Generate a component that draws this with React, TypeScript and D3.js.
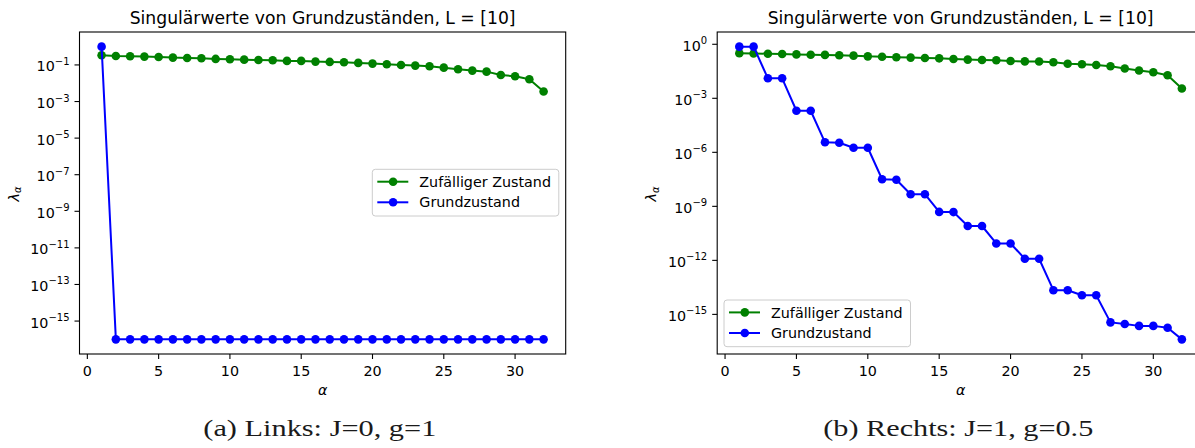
import React from 'react';
import * as d3 from 'd3';

const alphaValues = [1, 2, 3, 4, 5, 6, 7, 8, 9, 10, 11, 12, 13, 14, 15, 16, 17, 18, 19, 20, 21, 22, 23, 24, 25, 26, 27, 28, 29, 30, 31, 32];

const leftRandom = [0.337, 0.31, 0.298, 0.285, 0.273, 0.251, 0.241, 0.231, 0.213, 0.204, 0.195, 0.187, 0.18, 0.166, 0.166, 0.152, 0.146, 0.14, 0.129, 0.118, 0.109, 0.1, 0.092, 0.085, 0.071, 0.058, 0.049, 0.043, 0.028, 0.024, 0.0165, 0.0035];
const leftGround = [1.0, 1e-16, 1e-16, 1e-16, 1e-16, 1e-16, 1e-16, 1e-16, 1e-16, 1e-16, 1e-16, 1e-16, 1e-16, 1e-16, 1e-16, 1e-16, 1e-16, 1e-16, 1e-16, 1e-16, 1e-16, 1e-16, 1e-16, 1e-16, 1e-16, 1e-16, 1e-16, 1e-16, 1e-16, 1e-16, 1e-16, 1e-16];

const rightRandom = [0.32, 0.31, 0.3, 0.288, 0.275, 0.263, 0.257, 0.245, 0.234, 0.214, 0.204, 0.191, 0.182, 0.174, 0.166, 0.151, 0.141, 0.135, 0.129, 0.117, 0.112, 0.11, 0.1, 0.083, 0.078, 0.071, 0.06, 0.045, 0.035, 0.028, 0.019, 0.0035];
const rightGround = [0.74, 0.74, 0.0129, 0.0129, 2.04e-4, 2.04e-4, 3.6e-6, 3.4e-6, 1.8e-6, 1.8e-6, 3.2e-8, 3.0e-8, 4.7e-9, 4.7e-9, 4.9e-10, 4.8e-10, 8.1e-11, 8.1e-11, 8.7e-12, 8.7e-12, 1.23e-12, 1.23e-12, 2.2e-14, 2.2e-14, 1.15e-14, 1.15e-14, 3.6e-16, 2.9e-16, 2.3e-16, 2.3e-16, 1.8e-16, 4.1e-17];

const leftYExponents = [-1, -3, -5, -7, -9, -11, -13, -15];
const rightYExponents = [0, -3, -6, -9, -12, -15];
const xTickValues = [0, 5, 10, 15, 20, 25, 30];

const titleText = 'Singulärwerte von Grundzuständen, L = [10]';
const seriesNames = ['Zufälliger Zustand', 'Grundzustand'];
const seriesColors = ['#008000', '#0000ff'];
const captionLeft = '(a) Links: J=0, g=1';
const captionRight = '(b) Rechts: J=1, g=0.5';

const SANS = "'DejaVu Sans', sans-serif";
const SERIF = "'Liberation Serif', serif";
const FS = 14.3;

type PanelProps = {
  left: number;
  right: number;
  top: number;
  bottom: number;
  yExps: number[];
  random: number[];
  ground: number[];
  legendX: number;
  legendY: number;
  caption: string;
  captionX: number;
  captionLen: number;
};

function Panel(p: PanelProps) {
  const xExt = d3.extent(alphaValues) as [number, number];
  const xPad = (xExt[1] - xExt[0]) * 0.05;
  const x = d3.scaleLinear().domain([xExt[0] - xPad, xExt[1] + xPad]).range([p.left, p.right]);
  const all = [...p.random, ...p.ground].map((v) => Math.log10(v));
  const lmin = d3.min(all) as number;
  const lmax = d3.max(all) as number;
  const lPad = (lmax - lmin) * 0.05;
  const y = d3.scaleLog().domain([Math.pow(10, lmin - lPad), Math.pow(10, lmax + lPad)]).range([p.bottom, p.top]);
  const line = d3
    .line<number>()
    .x((_, i) => x(alphaValues[i]))
    .y((d) => y(d));
  const cx = (p.left + p.right) / 2;
  const cy = (p.top + p.bottom) / 2;
  const series = [p.random, p.ground];
  return (
    <g>
      <text x={cx} y={23.5} textAnchor="middle" fontFamily={SANS} fontSize={17.2} fill="#000">
        {titleText}
      </text>
      {series.map((s, si) => (
        <g key={si}>
          <path d={line(s) || ''} fill="none" stroke={seriesColors[si]} strokeWidth={2} strokeLinejoin="round" />
          {s.map((v, i) => (
            <circle key={i} cx={x(alphaValues[i])} cy={y(v)} r={4.3} fill={seriesColors[si]} />
          ))}
        </g>
      ))}
      <rect x={p.left} y={p.top} width={p.right - p.left} height={p.bottom - p.top} fill="none" stroke="#000" strokeWidth={1.1} />
      {xTickValues.map((t) => (
        <g key={t}>
          <line x1={x(t)} x2={x(t)} y1={p.bottom} y2={p.bottom + 5} stroke="#000" strokeWidth={1.1} />
          <text x={x(t)} y={p.bottom + 21.5} textAnchor="middle" fontFamily={SANS} fontSize={FS} fill="#000">
            {t}
          </text>
        </g>
      ))}
      {p.yExps.map((e) => {
        const yy = y(Math.pow(10, e));
        return (
          <g key={e}>
            <line x1={p.left - 5} x2={p.left} y1={yy} y2={yy} stroke="#000" strokeWidth={1.1} />
            <text x={p.left - 10} y={yy + 6.5} textAnchor="end" fontFamily={SANS} fontSize={FS} fill="#000">
              10
              <tspan dy={-6.5} fontSize={10}>
                {e < 0 ? '\u2212' + Math.abs(e) : String(e)}
              </tspan>
            </text>
          </g>
        );
      })}
      <text x={cx} y={p.bottom + 41} textAnchor="middle" fontFamily={SANS} fontStyle="italic" fontSize={FS} fill="#000">
        α
      </text>
      <text
        transform={`translate(${p.left - 61},${cy + 1}) rotate(-90)`}
        textAnchor="middle"
        fontFamily={SANS}
        fontStyle="italic"
        fontSize={FS}
        fill="#000"
      >
        λ
        <tspan dy={2.5} fontSize={10}>
          α
        </tspan>
      </text>
      <g transform={`translate(${p.legendX},${p.legendY})`}>
        <rect x={0} y={0} width={186.5} height={46.7} rx={3} fill="#fff" fillOpacity={0.8} stroke="#cccccc" strokeWidth={1} />
        {seriesNames.map((n, i) => {
          const ry = 12.4 + i * 20.6;
          return (
            <g key={n}>
              <line x1={5} x2={36} y1={ry} y2={ry} stroke={seriesColors[i]} strokeWidth={2} />
              <circle cx={20.8} cy={ry} r={4.3} fill={seriesColors[i]} />
              <text x={47} y={ry + 5.2} fontFamily={SANS} fontSize={FS} fill="#000">
                {n}
              </text>
            </g>
          );
        })}
      </g>
      <text
        x={p.captionX}
        y={436}
        fontFamily={SERIF}
        fontSize={23.5}
        fill="#1a1a1a"
        textLength={p.captionLen}
        lengthAdjust="spacingAndGlyphs"
      >
        {p.caption}
      </text>
    </g>
  );
}

export default function App() {
  return (
    <svg
      width={1195}
      height={448}
      viewBox="0 0 1195 448"
      style={{ position: 'absolute', left: 0, top: 0, background: '#fff', display: 'block' }}
    >
      <rect x={0} y={0} width={1195} height={448} fill="#fff" />
      <Panel
        left={79.5}
        right={565.7}
        top={32}
        bottom={354}
        yExps={leftYExponents}
        random={leftRandom}
        ground={leftGround}
        legendX={372.3}
        legendY={169.3}
        caption={captionLeft}
        captionX={203.3}
        captionLen={233}
      />
      <Panel
        left={717.2}
        right={1204}
        top={32}
        bottom={354}
        yExps={rightYExponents}
        random={rightRandom}
        ground={rightGround}
        legendX={724}
        legendY={300}
        caption={captionRight}
        captionX={823.3}
        captionLen={270}
      />
    </svg>
  );
}
